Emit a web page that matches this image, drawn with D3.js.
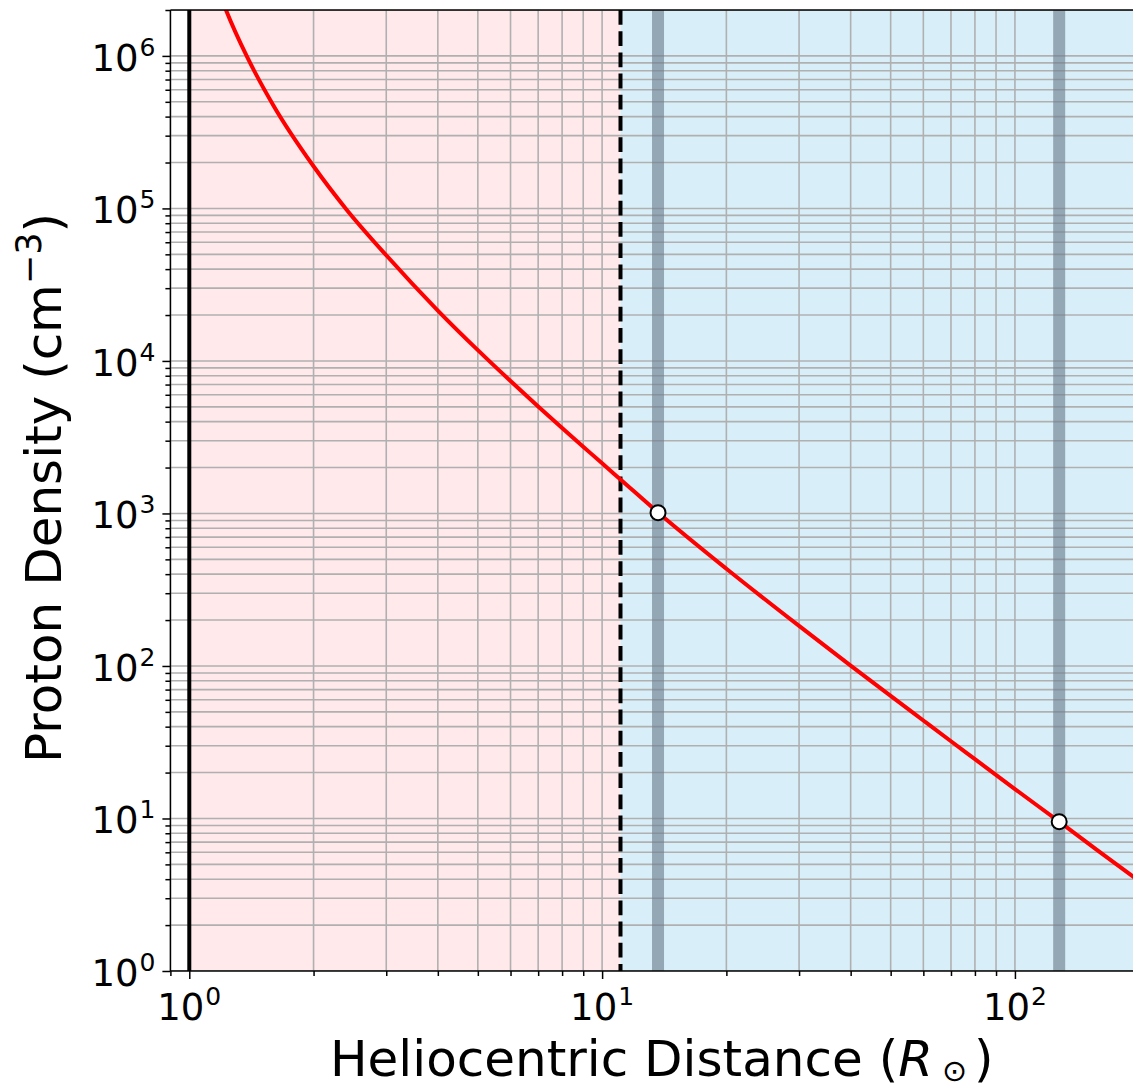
<!DOCTYPE html>
<html>
<head>
<meta charset="utf-8">
<title>Proton Density</title>
<script src="https://d3js.org/d3.v7.min.js"></script>
<style>
  body { margin: 0; background: #fff; }
  text { font-family: "DejaVu Sans", sans-serif; }
</style>
</head>
<body>
<svg id="chart" width="1133" height="1089"></svg>
<script>
// values
const distance = [1.2, 1.232, 1.377, 1.6, 2, 2.397, 3, 4, 5, 6, 7, 8, 9, 10, 11.08, 13.66,
                  20, 30, 40, 50, 60, 70, 80, 100, 128, 160, 200];
const density  = [2.34e6, 1.95e6, 1e6, 4.72e5, 1.89e5, 9.93e4, 4.93e4, 2.14e4, 1.177e4, 7380, 5030, 3630, 2740, 2130, 1670, 1015,
                  434, 183, 100.6, 63.6, 43.9, 32.1, 24.5, 15.6, 9.53, 6.07, 3.88];
const markerDistance = [13.66, 128];
const markerDensity = [1012, 9.53];
const sunSurface = 1;
const boundary = 11.08;
const xDomain = [0.9, 200];
const yDomain = [1, 2e6];
const xTickExp = [0, 1, 2];
const yTickExp = [0, 1, 2, 3, 4, 5, 6];

const margin = { top: 10, left: 170.4 };
const width = 968.8, height = 961;

const svg = d3.select("#chart");
const g = svg.append("g").attr("transform", `translate(${margin.left},${margin.top})`);

const x = d3.scaleLog().domain(xDomain).range([0, width]);
const y = d3.scaleLog().domain(yDomain).range([height, 0]);

// minor tick values (2..9 in each decade)
const xMinor = [], yMinor = [];
[-1, 0, 1, 2].forEach(e => d3.range(2, 10).forEach(m => {
  const v = m * Math.pow(10, e);
  if (v >= xDomain[0] && v <= xDomain[1]) xMinor.push(v);
}));
[0, 1, 2, 3, 4, 5, 6].forEach(e => d3.range(2, 10).forEach(m => {
  const v = m * Math.pow(10, e);
  if (v <= yDomain[1]) yMinor.push(v);
}));
const xMajor = xTickExp.map(e => Math.pow(10, e));
const yMajor = yTickExp.map(e => Math.pow(10, e));

g.append("clipPath").attr("id", "plotClip")
  .append("rect").attr("width", width).attr("height", height);

const plot = g.append("g").attr("clip-path", "url(#plotClip)");

// shaded regions
plot.append("rect")
  .attr("x", x(sunSurface)).attr("y", 0)
  .attr("width", x(boundary) - x(sunSurface)).attr("height", height)
  .attr("fill", "#ffe9eb");
plot.append("rect")
  .attr("x", x(boundary)).attr("y", 0)
  .attr("width", width - x(boundary)).attr("height", height)
  .attr("fill", "#d8eff9");

// grid
plot.append("g").selectAll("line").data(xMajor.concat(xMinor)).join("line")
  .attr("x1", d => x(d)).attr("x2", d => x(d))
  .attr("y1", 0).attr("y2", height)
  .attr("stroke", "#b0b0b0").attr("stroke-width", 1.6);
plot.append("g").selectAll("line").data(yMajor.concat(yMinor)).join("line")
  .attr("y1", d => y(d)).attr("y2", d => y(d))
  .attr("x1", 0).attr("x2", width)
  .attr("stroke", "#b0b0b0").attr("stroke-width", 1.6);

// spacecraft distance bands
plot.append("g").selectAll("line").data(markerDistance).join("line")
  .attr("x1", d => x(d)).attr("x2", d => x(d))
  .attr("y1", 0).attr("y2", height)
  .attr("stroke", "#708090").attr("stroke-opacity", 0.65).attr("stroke-width", 12);

// solar surface and boundary
plot.append("line")
  .attr("x1", x(sunSurface)).attr("x2", x(sunSurface))
  .attr("y1", 0).attr("y2", height)
  .attr("stroke", "#000").attr("stroke-width", 4);
plot.append("line")
  .attr("x1", x(boundary)).attr("x2", x(boundary))
  .attr("y1", 0).attr("y2", height)
  .attr("stroke", "#000").attr("stroke-width", 4)
  .attr("stroke-dasharray", "14.8,6.4");

// density curve
const line = d3.line().x(d => x(d[0])).y(d => y(d[1])).curve(d3.curveMonotoneX);
plot.append("path")
  .datum(distance.map((d, i) => [d, density[i]]))
  .attr("d", line)
  .attr("fill", "none").attr("stroke", "#ff0000").attr("stroke-width", 4);

plot.append("g").selectAll("circle").data(markerDistance).join("circle")
  .attr("cx", d => x(d)).attr("cy", (d, i) => y(markerDensity[i]))
  .attr("r", 7.5).attr("fill", "#fff").attr("stroke", "#000").attr("stroke-width", 2);

// axes
const axisG = g.append("g");
function styleAxis(sel) {
  sel.select(".domain").remove();
  sel.selectAll(".tick line").attr("stroke", "#000").attr("stroke-width", 1.5);
}
axisG.append("g").attr("transform", `translate(0,${height})`)
  .call(d3.axisBottom(x).tickValues(xMajor).tickSize(8).tickFormat(""))
  .call(styleAxis);
axisG.append("g").attr("transform", `translate(0,${height})`)
  .call(d3.axisBottom(x).tickValues(xMinor).tickSize(5).tickFormat(""))
  .call(styleAxis);
axisG.append("g")
  .call(d3.axisLeft(y).tickValues(yMajor).tickSize(8).tickFormat(""))
  .call(styleAxis);
axisG.append("g")
  .call(d3.axisLeft(y).tickValues(yMinor).tickSize(5).tickFormat(""))
  .call(styleAxis);

// spines (right one falls outside the picture)
[[0, 0, width, 0], [0, height, width, height], [0, 0, 0, height], [width, 0, width, height]]
  .forEach(s => axisG.append("line")
    .attr("x1", s[0]).attr("y1", s[1]).attr("x2", s[2]).attr("y2", s[3])
    .attr("stroke", "#000").attr("stroke-width", 1.5));

// tick labels with superscript exponents
const tickFont = 37;
function powLabel(sel, e) {
  sel.append("tspan").text("10");
  sel.append("tspan").attr("dx", 1).attr("dy", -15).attr("font-size", 25).text(e);
}
g.append("g").selectAll("text").data(xTickExp).join("text")
  .attr("x", d => x(Math.pow(10, d)))
  .attr("y", height + 49)
  .attr("text-anchor", "middle")
  .attr("font-size", tickFont)
  .each(function(d) { powLabel(d3.select(this), d); });
g.append("g").selectAll("text").data(yTickExp).join("text")
  .attr("x", -15)
  .attr("y", d => y(Math.pow(10, d)) + 15)
  .attr("text-anchor", "end")
  .attr("font-size", tickFont)
  .each(function(d) { powLabel(d3.select(this), d); });

// axis titles
const labelFont = 50;
const xl = svg.append("text")
  .attr("x", 330)
  .attr("y", 1076)
  .attr("text-anchor", "start")
  .attr("font-size", labelFont);
xl.append("tspan").text("Heliocentric Distance (");
xl.append("tspan").attr("font-style", "italic").text("R");
xl.append("tspan").attr("dx", 9).attr("dy", 5).attr("font-size", 30).text("\u2299");
xl.append("tspan").attr("dx", 7).attr("dy", -5).text(")");

const yl = svg.append("text")
  .attr("transform", `translate(61,488) rotate(-90)`)
  .attr("text-anchor", "middle")
  .attr("font-size", labelFont);
yl.append("tspan").text("Proton Density (cm");
yl.append("tspan").attr("dy", -20).attr("font-size", 35).text("\u22123");
yl.append("tspan").attr("dy", 20).text(")");
</script>
</body>
</html>
